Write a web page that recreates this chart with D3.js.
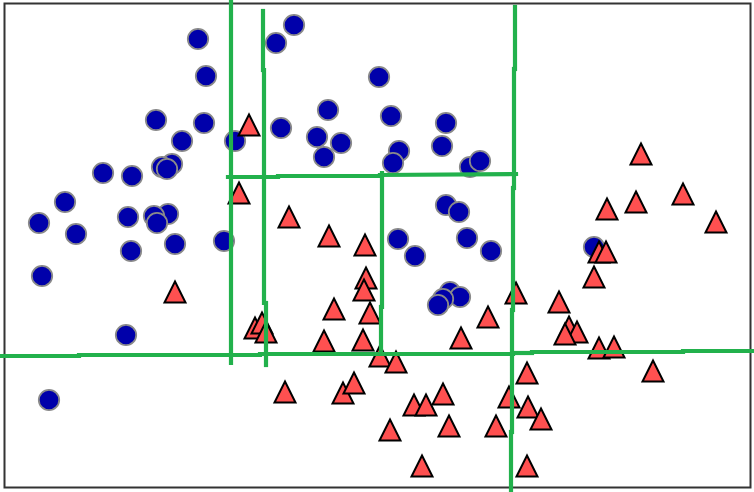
<!DOCTYPE html>
<html>
<head>
<meta charset="utf-8">
<script src="https://cdn.jsdelivr.net/npm/d3@7/dist/d3.min.js"></script>
<style>
  html, body { margin: 0; padding: 0; background: #ffffff; }
  svg { display: block; }
</style>
</head>
<body>
<svg id="chart" width="754" height="492"></svg>
<script>
// ---- data (feature coordinates, y increases upward) ----
const class0X = [193,201,151,199,177,230,167,157,162,98,127,60,34,71,123,163,149,152,170,126,219,37,121,44,
                 289,271,374,323,276,386,312,336,319,394,388,441,437,465,475,441,454,393,410,462,486,445,455,438,433,589];
const class0Y = [449,412,368,365,347,347,324,321,319,315,312,286,265,254,271,274,272,265,244,237,247,212,153,88,
                 463,445,411,378,360,372,351,345,331,337,325,365,342,321,327,283,276,249,232,250,237,196,191,189,183,241];
const class1X = [244,234,170,284,324,360,361,359,329,365,250,257,261,319,358,375,391,483,456,511,
                 280,338,349,409,421,438,385,444,491,417,504,522,523,536,522,
                 594,601,589,554,564,572,560,594,609,648,636,602,631,678,711];
const class1Y = [363,295,196,271,252,243,210,198,179,175,160,165,156,147,148,132,126,171,150,195,
                 96,95,105,83,83,94,58,62,62,22,91,115,81,69,22,
                 236,236,211,186,161,156,154,140,141,117,334,279,286,294,266];

// hand-drawn split lines (segments: x1, y1, x2, y2)
const splitX1 = [226, 258,259,261, -3,74,255,508,527,678, 223,273,375, 377,376, 510,509,508,507,506];
const splitY1 = [488, 477,418,185, 132,133,134,135,136,137, 311,312,313, 315,181, 481,419,300,178,56];
const splitX2 = [226, 258,259,261, 74,255,508,527,678,747, 273,375,511, 377,376, 510,509,508,507,506];
const splitY2 = [125, 418,185,123, 132,133,134,135,136,137, 311,312,314, 181,135, 419,300,178,56,-3];

// ---- scales ----
const x = d3.scaleLinear().domain([0, 746]).range([5, 751]);
const y = d3.scaleLinear().domain([0, 485]).range([488, 3]);

const svg = d3.select("#chart");
svg.append("rect").attr("width", 754).attr("height", 492).attr("fill", "#ffffff");

// plot frame
svg.append("rect")
  .attr("x", 4.5).attr("y", 3.5).attr("width", 746).attr("height", 484)
  .attr("fill", "none").attr("stroke", "#333333").attr("stroke-width", 2);

// class 0: circles
const c0 = class0X.map((v, i) => ({x: v, y: class0Y[i]}));
svg.append("g").selectAll("circle").data(c0).join("circle")
  .attr("cx", d => x(d.x)).attr("cy", d => y(d.y)).attr("r", 10.2)
  .attr("fill", "#0000aa").attr("stroke", "#8a8a8a").attr("stroke-width", 1.8);

// class 1: triangles
const c1 = class1X.map((v, i) => ({x: v, y: class1Y[i]}));
const h = 10.5;
svg.append("g").selectAll("path").data(c1).join("path")
  .attr("d", d => {
    const cx = x(d.x), cy = y(d.y);
    return `M${cx},${cy - h}L${cx + h},${cy + h}L${cx - h},${cy + h}Z`;
  })
  .attr("fill", "#ff5050").attr("stroke", "#000000").attr("stroke-width", 2)
  .attr("stroke-linejoin", "miter");

// green split lines
const segs = splitX1.map((v, i) => ({x1: v, y1: splitY1[i], x2: splitX2[i], y2: splitY2[i]}));
svg.append("g").selectAll("line").data(segs).join("line")
  .attr("x1", d => x(d.x1)).attr("y1", d => y(d.y1))
  .attr("x2", d => x(d.x2)).attr("y2", d => y(d.y2))
  .attr("stroke", "#22b14c").attr("stroke-width", 4.2).attr("stroke-linecap", "square");
</script>
</body>
</html>
